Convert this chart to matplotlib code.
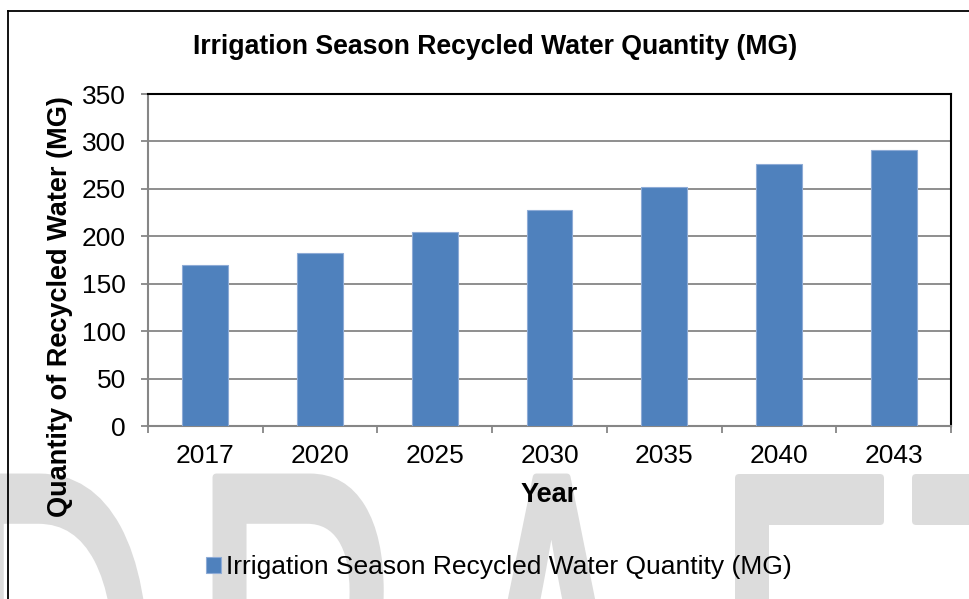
import numpy as np
import matplotlib
matplotlib.use("Agg")
import matplotlib.pyplot as plt
from matplotlib.textpath import TextPath
from matplotlib.font_manager import FontProperties
from matplotlib.patches import PathPatch
from matplotlib.path import Path
from matplotlib.lines import Line2D

# Data
years = ["2017", "2020", "2025", "2030", "2035", "2040", "2043"]
quantity = [170, 182, 205, 228, 252, 276, 291]
series_name = "Irrigation Season Recycled Water Quantity (MG)"
y_ticks = [0, 50, 100, 150, 200, 250, 300, 350]

W, H, DPI = 969, 599, 100
FONT = "Liberation Sans"
plt.rcParams["font.family"] = [FONT, "DejaVu Sans"]

fig = plt.figure(figsize=(W / DPI, H / DPI), dpi=DPI)
fig.patch.set_facecolor("white")

def fx(x):
    return x / W

def fy(y):
    return 1 - y / H

# Large "DRAFT" watermark along the bottom, letters placed one by one
fp = FontProperties(family=FONT)
sx, sy = 290.0, 580.0  # pixels per em (horizontal / vertical)
top_px = 477
letters = [("D", "right", 145), ("R", "left", 216), ("A", "center", 551),
           ("F", "left", 738), ("T", "left", 915)]
for ch, anchor, xpx in letters:
    tp = TextPath((0, 0), ch, size=1, prop=fp)
    ext = tp.get_extents()
    if anchor == "left":
        ref = ext.x0
    elif anchor == "right":
        ref = ext.x1
    else:
        ref = (ext.x0 + ext.x1) / 2
    v = tp.vertices.copy()
    px = xpx + sx * (v[:, 0] - ref)
    py = top_px + sy * (ext.y1 - v[:, 1])
    verts = np.column_stack([fx(px), fy(py)])
    patch = PathPatch(Path(verts, tp.codes), transform=fig.transFigure,
                      facecolor="#dcdcdc", edgecolor="#dcdcdc", lw=5,
                      joinstyle="round", zorder=0)
    fig.patches.append(patch)

# Outer frame (top and left edges visible)
fig.add_artist(Line2D([fx(8), fx(975)], [fy(11), fy(11)], color="black",
                      lw=1.3, transform=fig.transFigure, zorder=1))
fig.add_artist(Line2D([fx(8), fx(8)], [fy(11), fy(605)], color="black",
                      lw=1.3, transform=fig.transFigure, zorder=1))

# Plot area
left, right, top, bottom = 148, 951, 94, 426
ax = fig.add_axes([fx(left), fy(bottom), (right - left) / W, (bottom - top) / H])
ax.set_facecolor("none")
ax.set_zorder(2)

x = np.arange(len(years))
ax.bar(x, quantity, width=0.4, color="#4F81BD", edgecolor="#8EABD6",
       linewidth=0.8, zorder=3, label=series_name)

ax.set_xlim(-0.5, len(years) - 0.5)
ax.set_ylim(0, 350)
ax.set_yticks(y_ticks)
ax.set_yticklabels([str(t) for t in y_ticks])
ax.yaxis.grid(True, color="#868686", lw=1.3, zorder=1)
ax.set_axisbelow(True)

# Category boundary ticks, labels centred on bars
ax.set_xticks(np.arange(-0.5, len(years), 1))
ax.set_xticklabels([])
ax.set_xticks(x, minor=True)
ax.set_xticklabels(years, minor=True)
ax.tick_params(axis="x", which="major", direction="out", length=5,
               width=1.3, color="#868686")
ax.tick_params(axis="x", which="minor", length=0, pad=13, labelsize=19)
ax.tick_params(axis="y", direction="out", length=5, width=1.3,
               color="#868686", pad=11, labelsize=19)

for side in ("left", "bottom"):
    ax.spines[side].set_color("#868686")
    ax.spines[side].set_linewidth(1.5)
for side in ("top", "right"):
    ax.spines[side].set_color("black")
    ax.spines[side].set_linewidth(1.5)

# Titles and axis labels
fig.text(fx(495), fy(47), "Irrigation Season Recycled Water Quantity (MG)",
         ha="center", va="center", fontsize=19.2, fontweight="bold", zorder=3)
fig.text(fx(549), fy(495), "Year", ha="center", va="center",
         fontsize=19.5, fontweight="bold", zorder=3)
fig.text(fx(60), fy(307), "Quantity of Recycled Water (MG)", ha="center",
         va="center", rotation=90, fontsize=19.5, fontweight="bold", zorder=3)

# Legend below the chart
leg = fig.legend(handles=ax.containers[0][:1], labels=[series_name],
                 loc="center", bbox_to_anchor=(fx(499), fy(567)),
                 frameon=False, fontsize=19, handlelength=0.55,
                 handleheight=0.55, handletextpad=0.2)
leg.set_zorder(3)

fig.savefig("out.png", dpi=DPI, facecolor="white")
